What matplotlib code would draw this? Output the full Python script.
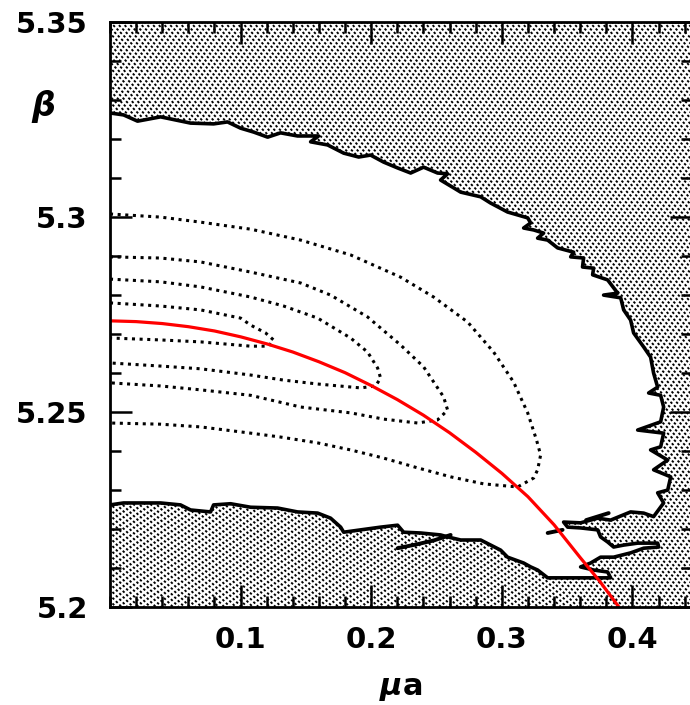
import numpy as np
import matplotlib
matplotlib.use('Agg')
import matplotlib.pyplot as plt
from matplotlib.ticker import MultipleLocator

# edge of the allowed (white) region, in path order
edge_mu = [0.0, 0.0104, 0.0211, 0.0387, 0.0617, 0.0793, 0.0900, 0.1000, 0.1100, 0.1207,
           0.1306, 0.1436, 0.1597, 0.1536, 0.1666, 0.1789, 0.1904, 0.1995, 0.2095, 0.2202,
           0.2302, 0.2401, 0.2508, 0.2585, 0.2531, 0.2631, 0.2685, 0.2838, 0.2914, 0.3044,
           0.3198, 0.3221, 0.3167, 0.3244, 0.3320, 0.3274, 0.3351, 0.3427, 0.3550, 0.3527,
           0.3626, 0.3618, 0.3703, 0.3695, 0.3810, 0.3887, 0.3779, 0.3910, 0.3933, 0.3986,
           0.4009, 0.4086, 0.4139, 0.4162, 0.4193, 0.4124, 0.4216, 0.4239, 0.4216,
           0.4040, 0.4239, 0.4216, 0.4139, 0.4270, 0.4162, 0.4293, 0.4270, 0.4193, 0.4239,
           0.4162, 0.4086, 0.3986, 0.3833, 0.3734, 0.3603, 0.3473, 0.3504, 0.3603, 0.3734,
           0.3756, 0.3810, 0.3856, 0.3933, 0.4040, 0.4193, 0.4201, 0.4086, 0.3986, 0.3856,
           0.3756, 0.3680, 0.3603, 0.3703, 0.3810, 0.3833, 0.3351, 0.3274, 0.3221, 0.3167,
           0.3044, 0.2991, 0.2838, 0.2685, 0.2585, 0.2531, 0.2378, 0.2248, 0.2202, 0.2072,
           0.1919, 0.1789, 0.1766, 0.1689, 0.1590, 0.1436, 0.1283, 0.1077, 0.0923, 0.0793,
           0.0770, 0.0617, 0.0540, 0.0387, 0.0257, 0.0104, 0.0]
edge_beta = [5.3266, 5.3261, 5.3245, 5.3256, 5.3240, 5.3238, 5.3243, 5.3227, 5.3217, 5.3204,
             5.3215, 5.3207, 5.3207, 5.3192, 5.3184, 5.3163, 5.3153, 5.3158, 5.3140, 5.3125,
             5.3112, 5.3127, 5.3112, 5.3110, 5.3094, 5.3074, 5.3063, 5.3051, 5.3035, 5.3012,
             5.2997, 5.2984, 5.2971, 5.2966, 5.2958, 5.2945, 5.2940, 5.2920, 5.2909, 5.2897,
             5.2894, 5.2871, 5.2868, 5.2851, 5.2838, 5.2804, 5.2799, 5.2792, 5.2761, 5.2735,
             5.2702, 5.2666, 5.2640, 5.2599, 5.2563, 5.2548, 5.2542, 5.2512, 5.2474,
             5.2453, 5.2445, 5.2410, 5.2402, 5.2376, 5.2351, 5.2333, 5.2299, 5.2292, 5.2266,
             5.2231, 5.2240, 5.2243, 5.2222, 5.2227, 5.2215, 5.2217, 5.2204, 5.2202, 5.2197,
             5.2179, 5.2166, 5.2153, 5.2158, 5.2163, 5.2163, 5.2153, 5.2150, 5.2138, 5.2127,
             5.2127, 5.2112, 5.2102, 5.2094, 5.2089, 5.2074, 5.2074, 5.2094, 5.2102, 5.2112,
             5.2127, 5.2145, 5.2171, 5.2171, 5.2179, 5.2184, 5.2189, 5.2191, 5.2209, 5.2204,
             5.2197, 5.2191, 5.2204, 5.2227, 5.2240, 5.2243, 5.2253, 5.2255, 5.2264, 5.2261,
             5.2243, 5.2248, 5.2261, 5.2266, 5.2266, 5.2266, 5.2261]

# stray bits of the edge
bits_mu = [[0.2202, 0.2350, 0.2480, 0.2608],
           [0.3351, 0.3465],
           [0.3645, 0.3818]]
bits_beta = [[5.2150, 5.2160, 5.2170, 5.2184],
             [5.2189, 5.2197],
             [5.2222, 5.2240]]

# dotted contours, outermost first
c1_mu = [0.0, 0.0387, 0.0694, 0.1077, 0.1460, 0.1842, 0.2225, 0.2478, 0.2738, 0.2937,
         0.3090, 0.3198, 0.3266, 0.3297, 0.3274, 0.3244, 0.3121, 0.2860, 0.2608, 0.2355,
         0.2095, 0.1842, 0.1590, 0.1306, 0.1077, 0.0694, 0.0387, 0.0]
c1_beta = [5.3007, 5.2999, 5.2986, 5.2968, 5.2940, 5.2902, 5.2845, 5.2794, 5.2730, 5.2653,
           5.2576, 5.2497, 5.2427, 5.2389, 5.2351, 5.2330, 5.2307, 5.2315, 5.2333, 5.2356,
           5.2381, 5.2402, 5.2420, 5.2435, 5.2445, 5.2461, 5.2468, 5.2471]

c2_mu = [0.0, 0.0387, 0.0694, 0.1077, 0.1460, 0.1689, 0.1972, 0.2225, 0.2401, 0.2554,
         0.2585, 0.2508, 0.2355, 0.2095, 0.1842, 0.1460, 0.1077, 0.0694, 0.0387, 0.0]
c2_beta = [5.2897, 5.2894, 5.2884, 5.2858, 5.2830, 5.2799, 5.2743, 5.2671, 5.2615, 5.2538,
           5.2504, 5.2479, 5.2471, 5.2481, 5.2497, 5.2512, 5.2542, 5.2556, 5.2566, 5.2574]

c3_mu = [0.0, 0.0387, 0.0694, 0.1077, 0.1329, 0.1590, 0.1842, 0.1972, 0.2049, 0.2072,
         0.2033, 0.1919, 0.1590, 0.1329, 0.1077, 0.0694, 0.0387, 0.0]
c3_beta = [5.2840, 5.2833, 5.2820, 5.2794, 5.2771, 5.2740, 5.2689, 5.2653, 5.2612, 5.2586,
           5.2566, 5.2561, 5.2571, 5.2581, 5.2594, 5.2610, 5.2617, 5.2625]

c4_mu = [0.0, 0.0387, 0.0694, 0.1000, 0.1077, 0.1191, 0.1252, 0.1214, 0.1077, 0.0694,
         0.0387, 0.0]
c4_beta = [5.2779, 5.2771, 5.2761, 5.2740, 5.2722, 5.2702, 5.2684, 5.2668, 5.2668, 5.2679,
           5.2684, 5.2689]

# red line
red_mu = [0.0, 0.02, 0.04, 0.06, 0.08, 0.10, 0.12, 0.14, 0.16, 0.18, 0.20, 0.22, 0.24,
          0.26, 0.28, 0.30, 0.32, 0.34, 0.36, 0.375, 0.389]
red_beta = [5.2733, 5.2731, 5.2726, 5.2718, 5.2707, 5.2692, 5.2674, 5.2653, 5.2628, 5.2600,
            5.2567, 5.2531, 5.2491, 5.2446, 5.2396, 5.2342, 5.2282, 5.2210, 5.2126, 5.2065,
            5.2002]

x_ticks = [0.1, 0.2, 0.3, 0.4]
x_labels = ['0.1', '0.2', '0.3', '0.4']
y_ticks = [5.2, 5.25, 5.3, 5.35]
y_labels = ['5.2', '5.25', '5.3', '5.35']

plt.rcParams['font.family'] = ['DejaVu Sans']
plt.rcParams['font.weight'] = 'bold'
plt.rcParams['mathtext.fontset'] = 'dejavusans'

fig = plt.figure(figsize=(6.9, 7.05), dpi=100)
ax = fig.add_axes([110 / 690, 1 - 606.7 / 705, 582 / 690, 585 / 705])
ax.set_xlim(0, 0.4456)
ax.set_ylim(5.2, 5.35)

# stippled texture for the excluded region (covered by the white fill inside)
for c in np.arange(-1.0, 1.0, 0.0098):
    ax.plot([c, c + 1], [1, 0], transform=ax.transAxes, color='black', lw=1.35,
            linestyle=(0, (1.3, 1.3)), zorder=0.5, clip_on=True)

ax.fill(edge_mu, edge_beta, color='white', zorder=1, linewidth=0)
ax.plot(edge_mu, edge_beta, color='black', lw=2.6, zorder=3, solid_joinstyle='round')
for bx, by in zip(bits_mu, bits_beta):
    ax.plot(bx, by, color='black', lw=2.8, zorder=3, solid_capstyle='round')

for cx, cy in [(c1_mu, c1_beta), (c2_mu, c2_beta), (c3_mu, c3_beta), (c4_mu, c4_beta)]:
    ax.plot(cx, cy, color='black', lw=2.2, linestyle=(0, (1, 1.5)), zorder=2)

ax.plot(red_mu, red_beta, color='#ff0000', lw=2.3, zorder=4)

ax.set_xticks(x_ticks)
ax.set_xticklabels(x_labels)
ax.set_yticks(y_ticks)
ax.set_yticklabels(y_labels)
ax.xaxis.set_minor_locator(MultipleLocator(0.02))
ax.yaxis.set_minor_locator(MultipleLocator(0.01))
ax.tick_params(which='both', direction='in', top=True, right=True, width=1.8,
               labelsize=21)
ax.tick_params(which='major', length=16)
ax.tick_params(which='minor', length=8)
ax.tick_params(axis='y', pad=16)
ax.tick_params(axis='x', pad=14)
for s in ax.spines.values():
    s.set_linewidth(2)
    s.set_zorder(5)

ax.set_xlabel(r'$\boldsymbol{\mu}$a', fontsize=22, fontweight='bold')
ax.xaxis.set_label_coords(0.5, -0.115)
ax.set_ylabel(r'$\boldsymbol{\beta}$', fontsize=24, rotation=0, va='center', ha='center')
ax.yaxis.set_label_coords(-0.115, 0.855)

fig.savefig('out.png', dpi=100)
